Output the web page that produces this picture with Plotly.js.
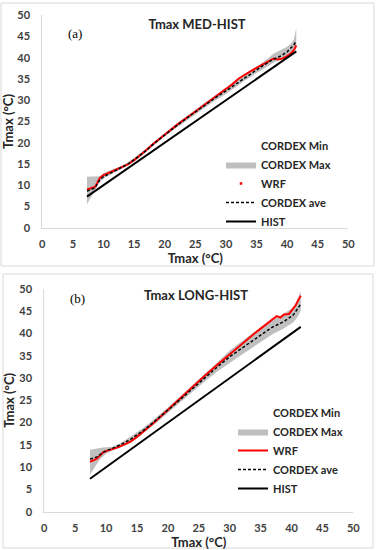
<!DOCTYPE html>
<html>
<head>
<meta charset="utf-8">
<script src="https://cdn.plot.ly/plotly-3.0.1.min.js"></script>
<style>html,body{margin:0;padding:0;background:#fff;}#chart{width:376px;height:550px;}</style>
</head>
<body>
<div id="chart"></div>
<script>
// ---- Panel (a): Tmax MED-HIST ----
var xA = [7.3, 8, 8.6, 9, 9.4, 10, 11, 12, 13, 14, 15, 16, 17, 18, 19, 20, 22, 24, 26, 28, 30, 31, 32, 33, 34, 35, 36, 37, 37.8, 38.5, 39.2, 40, 40.6, 41.1, 41.5];
var histA = [7.3, 8, 8.6, 9, 9.4, 10, 11, 12, 13, 14, 15, 16, 17, 18, 19, 20, 22, 24, 26, 28, 30, 31, 32, 33, 34, 35, 36, 37, 37.8, 38.5, 39.2, 40, 40.6, 41.1, 41.5];
var wrfA = [9.0, 9.3, 9.6, 10.6, 11.7, 12.4, 13.0, 13.6, 14.2, 14.9, 15.9, 17.0, 18.3, 19.6, 20.8, 22.0, 24.2, 26.3, 28.4, 30.4, 32.5, 33.7, 35.0, 36.0, 36.8, 37.6, 38.4, 39.3, 39.8, 39.6, 39.8, 40.4, 41.0, 41.8, 42.9];
var aveA = [8.6, 9.0, 9.4, 10.3, 11.3, 12.0, 12.8, 13.5, 14.2, 15.0, 16.0, 17.0, 18.2, 19.5, 20.7, 21.9, 24.1, 26.2, 28.3, 30.3, 32.2, 33.2, 34.3, 35.3, 36.2, 37.1, 38.1, 39.0, 39.7, 40.1, 40.6, 41.4, 42.2, 43.0, 43.9];
var minA = [5.5, 7.3, 8.8, 9.8, 10.8, 11.6, 12.4, 13.1, 13.8, 14.6, 15.6, 16.6, 17.8, 19.1, 20.3, 21.5, 23.6, 25.7, 27.8, 29.7, 31.5, 32.4, 33.5, 34.6, 35.5, 36.4, 37.3, 38.2, 38.9, 39.3, 39.8, 40.4, 41.2, 41.9, 42.4];
var maxA = [12.0, 12.0, 12.0, 12.0, 12.1, 12.8, 13.4, 14.0, 14.6, 15.4, 16.4, 17.4, 18.6, 19.9, 21.1, 22.3, 24.6, 26.7, 28.8, 30.9, 33.0, 34.1, 35.2, 36.2, 37.0, 37.9, 38.9, 40.0, 41.0, 41.5, 42.0, 42.6, 43.3, 44.3, 47.0];

// ---- Panel (b): Tmax LONG-HIST ----
var xB = [7.4, 8, 8.5, 9, 9.5, 10, 11, 12, 13, 14, 15, 16, 17, 18, 19, 20, 22, 24, 26, 28, 30, 32, 33, 34, 35, 36, 37, 37.6, 38.2, 38.8, 39.6, 40.2, 40.7, 41.1, 41.5];
var histB = [7.4, 8, 8.5, 9, 9.5, 10, 11, 12, 13, 14, 15, 16, 17, 18, 19, 20, 22, 24, 26, 28, 30, 32, 33, 34, 35, 36, 37, 37.6, 38.2, 38.8, 39.6, 40.2, 40.7, 41.1, 41.5];
var wrfB = [11.2, 11.6, 11.9, 12.6, 13.3, 13.6, 14.0, 14.5, 15.1, 15.8, 16.8, 17.9, 19.1, 20.3, 21.6, 22.9, 25.4, 28.0, 30.6, 33.0, 35.4, 37.8, 38.9, 40.0, 41.1, 42.2, 43.4, 43.9, 43.6, 44.3, 44.4, 45.4, 46.4, 47.5, 48.5];
var aveB = [11.8, 12.0, 12.3, 12.8, 13.3, 13.7, 14.2, 14.8, 15.5, 16.3, 17.2, 18.2, 19.3, 20.4, 21.6, 22.8, 25.2, 27.7, 30.1, 32.5, 34.8, 36.8, 37.8, 38.8, 39.7, 40.6, 41.5, 41.9, 42.3, 42.7, 43.5, 44.0, 45.0, 45.8, 46.6];
var minB = [8.3, 9.5, 10.7, 11.8, 12.5, 13.0, 13.7, 14.2, 14.8, 15.5, 16.5, 17.6, 18.7, 19.8, 21.0, 22.1, 24.5, 27.0, 29.3, 31.5, 33.5, 35.3, 36.2, 37.2, 38.1, 39.0, 39.9, 40.3, 40.7, 41.2, 41.9, 42.4, 43.2, 44.0, 45.2];
var maxB = [13.9, 14.1, 14.2, 14.3, 14.4, 14.5, 14.6, 15.1, 16.0, 17.0, 17.9, 18.8, 19.9, 21.0, 22.2, 23.4, 25.9, 28.4, 31.0, 33.5, 36.2, 38.4, 39.4, 40.4, 41.3, 42.2, 43.1, 43.6, 44.0, 44.5, 45.2, 45.8, 46.8, 48.0, 49.5];

var axisTicks = [0, 5, 10, 15, 20, 25, 30, 35, 40, 45, 50];
var seriesNames = ['CORDEX Min', 'CORDEX Max', 'WRF', 'CORDEX ave', 'HIST'];
var panelTitles = ['Tmax MED-HIST', 'Tmax LONG-HIST'];
var panelTags = ['(a)', '(b)'];
var axisLabel = 'Tmax (°C)';

var FONT = 'Lato, "Open Sans", "DejaVu Sans", sans-serif';
var GRAY = '#bfbfbf';

function panelTraces(x, mn, mx, wrf, ave, hist, xa, ya, leg, wrfDot) {
  var t = [];
  t.push({x: x, y: mn, xaxis: xa, yaxis: ya, mode: 'lines', line: {width: 0, color: GRAY},
          name: seriesNames[0], legend: leg, hoverinfo: 'skip'});
  t.push({x: x, y: mx, xaxis: xa, yaxis: ya, mode: 'lines', line: {width: 0, color: GRAY},
          fill: 'tonexty', fillcolor: GRAY, name: seriesNames[1], legend: leg, hoverinfo: 'skip'});
  t.push({x: x, y: wrf, xaxis: xa, yaxis: ya, mode: 'lines', line: {width: 2, color: '#ff0000'},
          name: seriesNames[2], legend: leg, showlegend: !wrfDot});
  if (wrfDot) {
    t.push({x: [null], y: [null], xaxis: xa, yaxis: ya, mode: 'markers',
            marker: {size: 2.5, color: '#ff0000', symbol: 'square'},
            name: seriesNames[2], legend: leg});
  }
  t.push({x: x, y: ave, xaxis: xa, yaxis: ya, mode: 'lines', line: {width: 1.5, color: '#000', dash: '3px,2px'},
          name: seriesNames[3], legend: leg});
  t.push({x: x, y: hist, xaxis: xa, yaxis: ya, mode: 'lines', line: {width: 2, color: '#000'},
          name: seriesNames[4], legend: leg});
  return t;
}

var data = [].concat(
  panelTraces(xA, minA, maxA, wrfA, aveA, histA, 'x', 'y', 'legend', true),
  panelTraces(xB, minB, maxB, wrfB, aveB, histB, 'x2', 'y2', 'legend2', false)
);

function axis(domain, anchor, isY) {
  return {
    domain: domain, anchor: anchor, range: [0, 50], tickvals: axisTicks,
    showgrid: false, zeroline: false, showline: true, linecolor: '#d9d9d9', linewidth: 1,
    ticks: '', ticklabelstandoff: isY ? 9 : 6, automargin: false, fixedrange: true,
    tickfont: {family: FONT, size: 11, color: '#404040', weight: 700},
    title: {text: axisLabel, font: {family: FONT, size: 13, color: '#262626', weight: 700}, standoff: isY ? 1 : 0}
  };
}

var W = 376, H = 550;
var legendFont = {family: FONT, size: 11, color: '#262626', weight: 700};
var layout = {
  width: W, height: H,
  margin: {l: 0, r: 0, t: 0, b: 0},
  paper_bgcolor: '#fff', plot_bgcolor: '#fff',
  showlegend: true,
  title: {text: panelTitles[0], x: 197 / W, xanchor: 'center', y: 1 - 24 / H, yanchor: 'middle',
          font: {family: FONT, size: 13, color: '#262626', weight: 700}},
  xaxis: axis([42.3 / W, 348.3 / W], 'y', false),
  yaxis: axis([1 - 227.7 / H, 1 - 15.3 / H], 'x', true),
  xaxis2: axis([44.3 / W, 353.3 / W], 'y2', false),
  yaxis2: axis([1 - 511.7 / H, 1 - 289 / H], 'x2', true),
  legend: {x: 221 / W, xanchor: 'left', y: 1 - 131 / H, yanchor: 'top', bgcolor: 'rgba(0,0,0,0)',
           itemwidth: 30, traceorder: 'normal', font: legendFont},
  legend2: {x: 233 / W, xanchor: 'left', y: 1 - 398 / H, yanchor: 'top', bgcolor: 'rgba(0,0,0,0)',
            itemwidth: 30, traceorder: 'normal', font: legendFont},
  annotations: [
    {text: panelTitles[1], xref: 'paper', yref: 'paper', x: 196 / W, y: 1 - 295 / H,
     xanchor: 'center', yanchor: 'middle', showarrow: false,
     font: {family: FONT, size: 13, color: '#262626', weight: 700}},
    {text: panelTags[0], xref: 'paper', yref: 'paper', x: 75 / W, y: 1 - 33 / H,
     xanchor: 'center', yanchor: 'middle', showarrow: false,
     font: {family: '"Liberation Serif", "DejaVu Serif", serif', size: 13, color: '#000'}},
    {text: panelTags[1], xref: 'paper', yref: 'paper', x: 77 / W, y: 1 - 299 / H,
     xanchor: 'center', yanchor: 'middle', showarrow: false,
     font: {family: '"Liberation Serif", "DejaVu Serif", serif', size: 13, color: '#000'}}
  ],
  shapes: [
    {type: 'rect', xref: 'paper', yref: 'paper', x0: 1 / W, x1: 374 / W, y0: 1 - 266 / H, y1: 1 - 3 / H,
     line: {color: '#d9d9d9', width: 1}, layer: 'below'},
    {type: 'rect', xref: 'paper', yref: 'paper', x0: 3 / W, x1: 373 / W, y0: 1 - 548 / H, y1: 1 - 274 / H,
     line: {color: '#d9d9d9', width: 1}, layer: 'below'}
  ]
};

Plotly.newPlot('chart', data, layout, {staticPlot: true, displayModeBar: false});
</script>
</body>
</html>
